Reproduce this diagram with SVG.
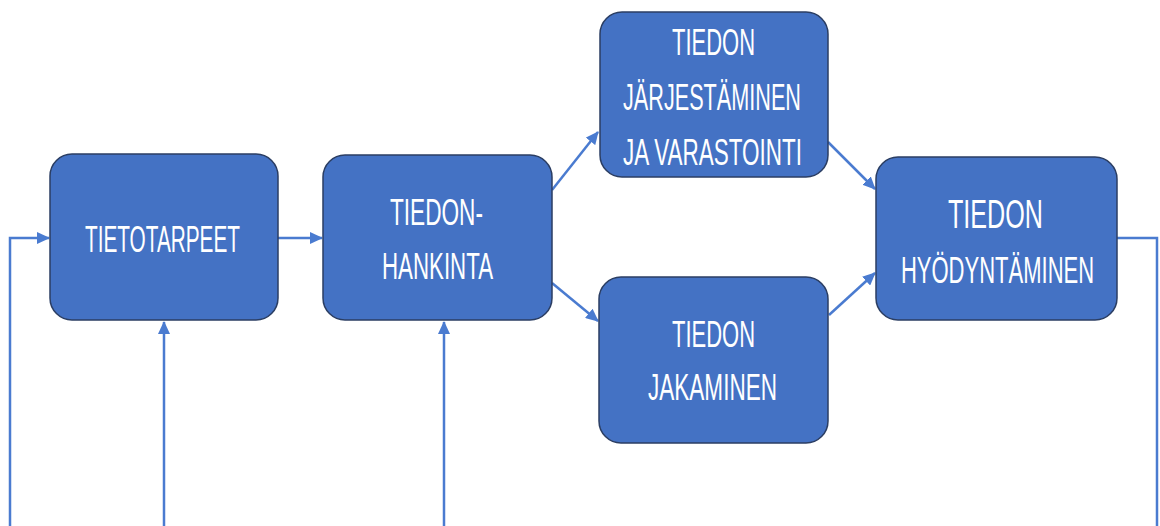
<svg xmlns="http://www.w3.org/2000/svg" width="1160" height="526" viewBox="0 0 1160 526">
<style>
.box{fill:#4472C4;stroke:#2B3E63;stroke-width:1.5}
.lbl{font-family:"Liberation Sans",Arial,sans-serif;font-size:37px;fill:#ffffff}
.big{font-size:41px}
.con{fill:none;stroke:#4A7BD0;stroke-width:2.5}
</style>
<defs>
<marker id="ah" markerUnits="userSpaceOnUse" markerWidth="13" markerHeight="12" refX="12" refY="6" orient="auto">
<path d="M0,0 L13,6 L0,12 z" fill="#4A7BD0"/>
</marker>
</defs>
<rect width="1160" height="526" fill="#ffffff"/>
<g id="connectors">
<path class="con" d="M10,526 V238 H49" marker-end="url(#ah)"/>
<path class="con" d="M1117,238 H1157 V526"/>
<path class="con" d="M164,526 V322" marker-end="url(#ah)"/>
<path class="con" d="M444,526 V322" marker-end="url(#ah)"/>
<path class="con" d="M278,238 H322" marker-end="url(#ah)"/>
<path class="con" d="M552,190 L598,132" marker-end="url(#ah)"/>
<path class="con" d="M552,283 L598,321" marker-end="url(#ah)"/>
<path class="con" d="M828,142 L875,189" marker-end="url(#ah)"/>
<path class="con" d="M829,315 L875,273" marker-end="url(#ah)"/>
</g>
<g id="n1">
<rect class="box" x="50" y="154" width="228" height="166" rx="22"/>
<text class="lbl" x="85" y="252" textLength="155" lengthAdjust="spacingAndGlyphs">TIETOTARPEET</text>
</g>
<g id="n2">
<rect class="box" x="323" y="155" width="229" height="165" rx="22"/>
<text class="lbl" x="390" y="225" textLength="93" lengthAdjust="spacingAndGlyphs">TIEDON-</text>
<text class="lbl" x="382" y="279" textLength="111" lengthAdjust="spacingAndGlyphs">HANKINTA</text>
</g>
<g id="n3">
<rect class="box" x="600" y="12" width="228" height="165" rx="22"/>
<text class="lbl" x="672" y="55" textLength="83" lengthAdjust="spacingAndGlyphs">TIEDON</text>
<text class="lbl" x="623" y="110" textLength="178" lengthAdjust="spacingAndGlyphs">JÄRJESTÄMINEN</text>
<text class="lbl" x="623" y="165" textLength="179" lengthAdjust="spacingAndGlyphs">JA VARASTOINTI</text>
</g>
<g id="n4">
<rect class="box" x="876" y="157" width="241" height="163" rx="22"/>
<text class="lbl big" x="948" y="228" textLength="95" lengthAdjust="spacingAndGlyphs">TIEDON</text>
<text class="lbl" transform="translate(997.5,283) scale(0.6,1)" x="0" y="0" text-anchor="middle" textLength="322" lengthAdjust="spacingAndGlyphs">HYÖDYNTÄMINEN</text>
</g>
<g id="n5">
<rect class="box" x="599" y="277" width="229" height="166" rx="22"/>
<text class="lbl" x="672" y="347" textLength="83" lengthAdjust="spacingAndGlyphs">TIEDON</text>
<text class="lbl" x="648" y="400" textLength="129" lengthAdjust="spacingAndGlyphs">JAKAMINEN</text>
</g>
</svg>
